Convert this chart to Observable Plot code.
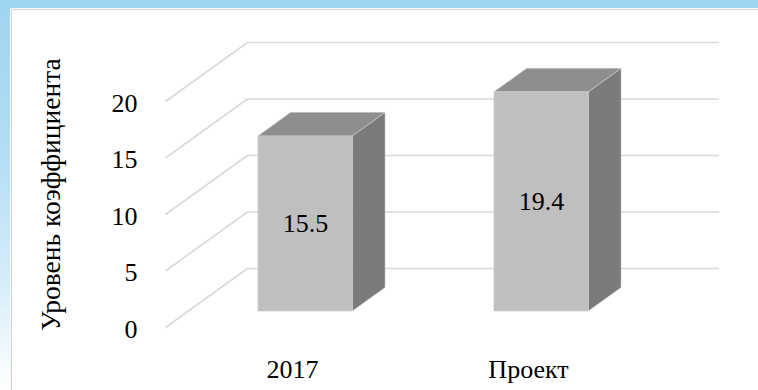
<!DOCTYPE html>
<html>
<head>
<meta charset="utf-8">
<script src="https://cdn.jsdelivr.net/npm/d3@7"></script>
<script src="https://cdn.jsdelivr.net/npm/@observablehq/plot@0.6"></script>
<style>
  html, body { margin: 0; padding: 0; }
  #frame {
    position: relative; width: 758px; height: 390px; overflow: hidden;
    background: linear-gradient(to bottom, #9fd5f1 0%, #b3def5 40%, #d9eff9 75%, #ffffff 100%);
  }
  #panel {
    position: absolute; left: 11px; top: 9px; width: 800px; height: 420px;
    background: #ffffff;
    border-left: 1px solid #d2d2d2; border-top: 1px solid #dadada;
    box-shadow: -1px -1px 0 #f3f8fb;
  }
  #chart { position: absolute; left: 0; top: 0; }
</style>
</head>
<body>
<div id="frame">
  <div id="panel"></div>
  <div id="chart"></div>
</div>
<script>
// Categories and values
const categories = ["2017", "Проект"];
const values = [15.5, 19.4];
const yTicks = [0, 5, 10, 15, 20];
const yTitle = "Уровень коэффициента";

// Oblique 3-D projection, expressed in data units:
// the floor runs from category -0.5 to 1.5; full depth shifts by depth.x categories and depth.y value units
const floorX = [-0.5, 1.5];
const depth = {x: 0.347, y: 5.22};
const barDepth = [0.27, 0.67]; // front and back of each bar as fractions of the floor depth
const halfWidth = 0.2;          // half bar width in category units
const [t0, t1] = barDepth;

const serif = "Liberation Serif";

const bars = categories.map((category, i) => ({category, i, value: values[i]}));

// Side faces (right) and top faces of the boxes
const sides = bars.flatMap(b => barDepth.map(t => ({
  category: b.category,
  x: b.i + halfWidth + t * depth.x,
  y1: t * depth.y,
  y2: b.value + t * depth.y
})));
const tops = bars.flatMap(b => barDepth.map(t => ({
  category: b.category,
  y: b.value + t * depth.y,
  x1: b.i - halfWidth + t * depth.x,
  x2: b.i + halfWidth + t * depth.x
})));

const edge = {stroke: "#d4d4d4", strokeWidth: 0.8, strokeOpacity: 0.7};

const chart = Plot.plot({
  width: 758,
  height: 390,
  marginTop: 101,
  marginBottom: 63,
  marginLeft: 165,
  marginRight: 121,
  x: {domain: floorX, label: null},
  y: {domain: [0, 20], label: null},
  style: "background: transparent; font-family: 'Liberation Serif', serif; font-size: 26px; color: #000;",
  marks: [
    // back wall gridlines
    Plot.ruleY(yTicks, {
      y: v => v + depth.y,
      x1: () => floorX[0] + depth.x,
      x2: () => floorX[1] + depth.x,
      stroke: "#d9d9d9", strokeWidth: 1.6
    }),
    // side wall gridlines running from the front edge to the back wall
    Plot.link(yTicks, {
      x1: () => floorX[0], y1: v => v,
      x2: () => floorX[0] + depth.x, y2: v => v + depth.y,
      stroke: "#d9d9d9", strokeWidth: 1.6
    }),
    // boxes
    Plot.areaY(sides, {x: "x", y1: "y1", y2: "y2", z: "category", fill: "#7b7b7b", ...edge}),
    Plot.areaX(tops, {y: "y", x1: "x1", x2: "x2", z: "category", fill: "#8e8e8e", ...edge}),
    Plot.rect(bars, {
      x1: b => b.i - halfWidth + t0 * depth.x,
      x2: b => b.i + halfWidth + t0 * depth.x,
      y1: () => t0 * depth.y,
      y2: b => b.value + t0 * depth.y,
      fill: "#bfbfbf", ...edge
    }),
    // value labels on the front faces
    Plot.text(bars, {
      x: b => b.i + t0 * depth.x,
      y: b => b.value / 2 + t0 * depth.y,
      text: b => b.value.toFixed(1),
      fontSize: 26, fontFamily: serif, fill: "#000"
    }),
    // axes
    Plot.axisY(yTicks, {tickSize: 0, tickPadding: 28, dy: 2, fontSize: 26, fontFamily: serif, fill: "#000"}),
    Plot.axisX(categories.map((c, i) => i), {
      tickSize: 0, tickPadding: 32, dx: 9, fontSize: 26, fontFamily: serif, fill: "#000",
      tickFormat: i => categories[i]
    }),
    // vertical axis title
    Plot.text([yTitle], {
      frameAnchor: "left", textAnchor: "middle", dx: -114, dy: -20, rotate: -90,
      fontSize: 27.5, fontFamily: serif, fill: "#000"
    })
  ]
});

document.getElementById("chart").appendChild(chart);
</script>
</body>
</html>
